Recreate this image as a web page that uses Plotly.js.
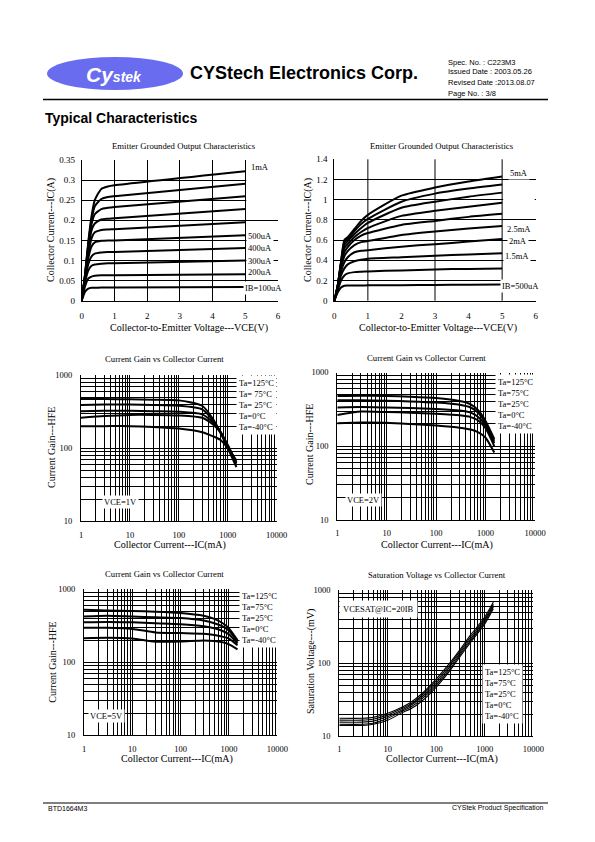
<!DOCTYPE html>
<html><head><meta charset="utf-8">
<script src="https://cdn.plot.ly/plotly-3.0.1.min.js"></script>
<style>html,body{margin:0;padding:0;background:#fff;}#chart{width:595px;height:842px;}</style>
</head><body><div id="chart"></div>
<script>
// ---------------- DATA ----------------
// Chart 1: Emitter grounded output characteristics (IB = 100uA .. 1mA)
const vce1 = [0, 0.1, 0.2, 0.3, 0.4, 0.6, 0.8, 1, 5];
const ib1 = ['100uA','200uA','300uA','400uA','500uA','600uA','700uA','800uA','900uA','1mA'];
const ic1 = [
  [0, 0.022, 0.030, 0.032, 0.032, 0.033, 0.033, 0.033, 0.034],
  [0, 0.035, 0.055, 0.060, 0.062, 0.063, 0.063, 0.063, 0.066],
  [0, 0.045, 0.075, 0.087, 0.090, 0.092, 0.093, 0.093, 0.100],
  [0, 0.050, 0.090, 0.110, 0.117, 0.120, 0.121, 0.121, 0.131],
  [0, 0.055, 0.105, 0.135, 0.145, 0.149, 0.150, 0.150, 0.163],
  [0, 0.058, 0.115, 0.155, 0.170, 0.176, 0.177, 0.178, 0.195],
  [0, 0.060, 0.125, 0.175, 0.192, 0.202, 0.204, 0.205, 0.228],
  [0, 0.062, 0.135, 0.190, 0.215, 0.228, 0.231, 0.233, 0.260],
  [0, 0.063, 0.140, 0.200, 0.235, 0.253, 0.258, 0.260, 0.291],
  [0, 0.064, 0.145, 0.210, 0.250, 0.278, 0.284, 0.287, 0.322]
];
// Chart 2: Emitter grounded output characteristics (IB = 500uA .. 5mA)
const vce2 = [0, 0.1, 0.2, 0.3, 0.4, 0.6, 0.8, 1, 2, 3, 4, 5];
const ib2 = ['500uA','1mA','1.5mA','2mA','2.5mA','3mA','3.5mA','4mA','4.5mA','5mA'];
const ic2 = [
  [0, 0.08, 0.13, 0.148, 0.150, 0.150, 0.151, 0.152, 0.154, 0.156, 0.158, 0.160],
  [0, 0.10, 0.20, 0.25, 0.27, 0.283, 0.287, 0.290, 0.300, 0.310, 0.315, 0.320],
  [0, 0.11, 0.25, 0.32, 0.36, 0.39, 0.405, 0.415, 0.430, 0.445, 0.458, 0.470],
  [0, 0.12, 0.29, 0.38, 0.43, 0.48, 0.495, 0.500, 0.535, 0.560, 0.585, 0.610],
  [0, 0.13, 0.32, 0.44, 0.49, 0.55, 0.58, 0.59, 0.65, 0.685, 0.715, 0.74],
  [0, 0.135, 0.34, 0.48, 0.53, 0.60, 0.645, 0.67, 0.75, 0.79, 0.83, 0.86],
  [0, 0.14, 0.36, 0.52, 0.56, 0.63, 0.68, 0.72, 0.84, 0.89, 0.93, 0.97],
  [0, 0.145, 0.37, 0.55, 0.59, 0.66, 0.72, 0.77, 0.92, 0.98, 1.03, 1.07],
  [0, 0.15, 0.38, 0.58, 0.61, 0.69, 0.76, 0.81, 0.98, 1.06, 1.11, 1.15],
  [0, 0.15, 0.39, 0.60, 0.63, 0.71, 0.79, 0.85, 1.04, 1.12, 1.18, 1.23]
];
// Current gain vs collector current (Ta = 125, 75, 25, 0, -40 C)
const temps = ['125','75','25','0','-40'];
const icGain1 = [1, 3, 10, 30, 100, 300, 500, 700, 1000, 1500];
const hfeVce1 = [
  [470, 470, 465, 460, 450, 380, 250, 165, 100, 55],
  [390, 395, 395, 390, 380, 340, 240, 170, 105, 58],
  [320, 325, 325, 320, 315, 290, 225, 170, 110, 62],
  [260, 275, 285, 285, 280, 260, 210, 165, 110, 65],
  [200, 200, 200, 195, 185, 165, 145, 130, 100, 68]
];
const icGain2 = [1, 3, 10, 30, 100, 300, 500, 700, 1000, 1500];
const hfeVce2 = [
  [480, 485, 480, 470, 450, 410, 370, 310, 220, 125],
  [420, 420, 415, 405, 390, 365, 335, 285, 205, 118],
  [335, 340, 335, 330, 320, 305, 285, 250, 190, 110],
  [265, 295, 290, 285, 275, 262, 248, 225, 175, 100],
  [205, 210, 208, 200, 190, 178, 168, 155, 130, 82]
];
const icGain5 = [1, 3, 10, 30, 100, 300, 500, 800, 1000, 1500];
const hfeVce5 = [
  [520, 510, 500, 490, 470, 430, 390, 330, 290, 200],
  [420, 430, 420, 410, 400, 370, 340, 300, 270, 190],
  [350, 355, 350, 340, 330, 310, 290, 260, 240, 180],
  [295, 295, 285, 255, 250, 245, 235, 220, 210, 170],
  [212, 215, 210, 190, 192, 198, 195, 185, 175, 150]
];
// Saturation voltage vs collector current (mV)
const icSat = [1, 3, 5, 10, 20, 30, 50, 100, 200, 300, 500, 1000, 1500];
const vceSat = [
  [17.5, 17.5, 18, 20.5, 25, 29, 38, 61, 105, 150, 240, 430, 690],
  [16.5, 16.5, 17, 19.5, 24, 27.5, 36, 57, 99, 142, 225, 405, 650],
  [15.5, 15.5, 16, 18.5, 23, 26.5, 34, 53, 93, 134, 212, 385, 620],
  [14.5, 14.5, 15, 17.5, 22, 25, 32, 50, 87, 127, 200, 365, 590],
  [14, 14, 14.5, 16.5, 21, 23.7, 30, 47, 82, 120, 190, 346, 560]
];
const logTickVals = [1, 10, 100, 1000, 10000];
const logTickText = ['1', '10', '100', '1000', '10000'];
const logYTickVals = [10, 100, 1000];
const logYTickText = ['10', '100', '1000'];

// ---------------- LAYOUT HELPERS ----------------
const W = 595, H = 842;
const px = x => x / W;
const py = y => 1 - y / H;
const SERIF = '"Liberation Serif","Times New Roman",serif';
const SANS = '"Liberation Sans",Arial,sans-serif';

const traces = [];
function addCurves(xs, ysets, xa, ya, width) {
  ysets.forEach(ys => traces.push({
    type: 'scatter', mode: 'lines', x: xs, y: ys, xaxis: xa, yaxis: ya,
    line: {color: '#000', width: width, shape: 'spline', smoothing: 0.6},
    hoverinfo: 'skip'
  }));
}
addCurves(vce1, ic1, 'x', 'y', 2);
addCurves(vce2, ic2, 'x2', 'y2', 2);
addCurves(icGain1, hfeVce1, 'x3', 'y3', 2);
addCurves(icGain2, hfeVce2, 'x4', 'y4', 2);
addCurves(icGain5, hfeVce5, 'x5', 'y5', 2);
addCurves(icSat, vceSat, 'x6', 'y6', 1.1);

function baseAx(extra) {
  return Object.assign({
    showline: true, linecolor: '#000', linewidth: 1, ticks: '',
    tickfont: {family: SERIF, size: 9, color: '#000'},
    showgrid: true, gridcolor: '#000', gridwidth: 1, zeroline: false,
    fixedrange: true, ticklabelstandoff: 4
  }, extra);
}
function logX(dom, anchor) {
  return baseAx({type: 'log', domain: dom, anchor: anchor, range: [0, 4],
    tickmode: 'array', tickvals: logTickVals, ticktext: logTickText,
    tickfont: {family: SERIF, size: 8.5, color: '#000'}, ticklabelstandoff: 5,
    minor: {dtick: 'D1', showgrid: true, gridcolor: '#000', gridwidth: 1, ticks: ''}});
}
function logY(dom, anchor) {
  return baseAx({type: 'log', domain: dom, anchor: anchor, range: [1, 3],
    tickmode: 'array', tickvals: logYTickVals, ticktext: logYTickText,
    tickfont: {family: SERIF, size: 8.5, color: '#000'}, ticklabelstandoff: 6,
    minor: {dtick: 'D1', showgrid: true, gridcolor: '#000', gridwidth: 1, ticks: ''}});
}
const dx = (a, b) => [px(a), px(b)];
const dy = (top, bot) => [py(bot), py(top)];

const layout = {
  width: W, height: H, margin: {l: 0, r: 0, t: 0, b: 0},
  paper_bgcolor: '#fff', plot_bgcolor: 'rgba(0,0,0,0)', showlegend: false,
  xaxis: baseAx({domain: dx(81.7, 278), anchor: 'y', range: [0, 6], dtick: 1, tick0: 0, ticklabelstandoff: 6}),
  yaxis: baseAx({domain: dy(160, 300.7), anchor: 'x', range: [0, 0.35], dtick: 0.05, tick0: 0}),
  xaxis2: baseAx({domain: dx(334.3, 535.7), anchor: 'y2', range: [0, 6], dtick: 1, tick0: 0, showgrid: false, ticklabelstandoff: 6}),
  yaxis2: baseAx({domain: dy(159.3, 300.7), anchor: 'x2', range: [0, 1.4], dtick: 0.2, tick0: 0}),
  xaxis3: logX(dx(81, 276.7), 'y3'),
  yaxis3: logY(dy(375, 521.3), 'x3'),
  xaxis4: logX(dx(337.3, 535), 'y4'),
  yaxis4: logY(dy(372.5, 519.8), 'x4'),
  xaxis5: logX(dx(84, 277.3), 'y5'),
  yaxis5: logY(dy(589, 735.3), 'x5'),
  xaxis6: logX(dx(339.3, 533.3), 'y6'),
  yaxis6: logY(dy(590.3, 736), 'x6'),
  shapes: [], annotations: []
};

// header / footer shapes
layout.shapes.push(
  {type: 'line', xref: 'paper', yref: 'paper', x0: px(43), x1: px(548), y0: py(99.5), y1: py(99.5), line: {color: '#000', width: 1.5}},
  {type: 'line', xref: 'paper', yref: 'paper', x0: px(43), x1: px(548), y0: py(803), y1: py(803), line: {color: '#000', width: 1.2}},
  {type: 'circle', xref: 'paper', yref: 'paper', x0: px(47), x1: px(183), y0: py(90), y1: py(57), fillcolor: '#6a6cf0', line: {width: 0}}
);
// vertical grid for chart 2 (only at 1,3,5 in the original)
[1, 3, 5].forEach(v => layout.shapes.push({type: 'line', xref: 'x2', yref: 'y2 domain', x0: v, x1: v, y0: 0, y1: 1, layer: 'below', line: {color: '#000', width: 1}}));
// white label areas covering grid
layout.shapes.push(
  {type: 'rect', xref: 'x', yref: 'y', x0: 5.03, x1: 6.05, y0: 0.203, y1: 0.352, fillcolor: '#fff', line: {width: 0}, layer: 'above'},
  {type: 'rect', xref: 'x2', yref: 'y2', x0: 5.03, x1: 5.97, y0: 0.82, y1: 1.18, fillcolor: '#fff', line: {width: 0}, layer: 'above'},
  {type: 'rect', xref: 'x2', yref: 'y2', x0: 5.03, x1: 6.05, y0: 1.22, y1: 1.41, fillcolor: '#fff', line: {width: 0}, layer: 'above'}
);

function ann(text, x, y, opts) {
  layout.annotations.push(Object.assign({
    text: text, xref: 'paper', yref: 'paper', x: px(x), y: py(y),
    xanchor: 'center', yanchor: 'middle', showarrow: false,
    font: {family: SERIF, size: 9, color: '#000'}
  }, opts || {}));
}
// header texts
ann('<b><i>Cy</i></b><b><i><span style="font-size:14px">stek</span></i></b>', 114, 75, {font: {family: SANS, size: 21, color: '#fff'}});
ann('<b>CYStech Electronics Corp.</b>', 188, 73, {xanchor: 'left', font: {family: SANS, size: 18, color: '#000'}});
ann('Spec. No. : C223M3', 446, 62, {xanchor: 'left', font: {family: SANS, size: 7.5, color: '#000'}});
ann('Issued Date : 2003.05.26', 446, 72, {xanchor: 'left', font: {family: SANS, size: 7.5, color: '#000'}});
ann('Revised Date :2013.08.07', 446, 82.5, {xanchor: 'left', font: {family: SANS, size: 7.5, color: '#000'}});
ann('Page No. : 3/8', 446, 93, {xanchor: 'left', font: {family: SANS, size: 7.5, color: '#000'}});
ann('<b>Typical Characteristics</b>', 43, 118, {xanchor: 'left', font: {family: SANS, size: 14, color: '#000'}});
ann('BTD1664M3', 46, 808, {xanchor: 'left', font: {family: SANS, size: 7, color: '#000'}});
ann('CYStek Product Specification', 546, 808, {xanchor: 'right', font: {family: SANS, size: 7, color: '#000'}});

// chart titles
const T = {family: SERIF, size: 8.7, color: '#000'};
ann('Emitter Grounded Output Characteristics', 184, 145.7, {font: T});
ann('Emitter Grounded Output Characteristics', 441.7, 145.7, {font: T});
ann('Current Gain vs Collector Current', 164, 359, {font: T});
ann('Current Gain vs Collector Current', 426, 358.5, {font: T});
ann('Current Gain vs Collector Current', 164, 574, {font: T});
ann('Saturation Voltage vs Collector Current', 436.7, 575, {font: T});
// axis titles
const A = {family: SERIF, size: 10, color: '#000'};
ann('Collector-to-Emitter Voltage---VCE(V)', 189, 327.7, {font: A});
ann('Collector-to-Emitter Voltage---VCE(V)', 438, 327.7, {font: A});
ann('Collector Current---IC(mA)', 170, 545, {font: A});
ann('Collector Current---IC(mA)', 436.7, 544.5, {font: A});
ann('Collector Current---IC(mA)', 176.7, 758.5, {font: A});
ann('Collector Current---IC(mA)', 441.7, 759, {font: A});
ann('Collector Current---IC(A)', 51, 230, {font: A, textangle: -90});
ann('Collector Current---IC(A)', 308, 230, {font: A, textangle: -90});
ann('Current Gain---HFE', 51, 448, {font: A, textangle: -90});
ann('Current Gain---HFE', 309, 445, {font: A, textangle: -90});
ann('Current Gain---HFE', 51.7, 662, {font: A, textangle: -90});
ann('Saturation Voltage---(mV)', 311, 662, {font: A, textangle: -90});

// curve labels
const L = {family: SERIF, size: 8.5, color: '#000'};
const W8 = {font: L, bgcolor: '#fff', borderpad: 1};
ann(ib1[9], 260, 166.7, W8);
ann(ib1[4], 260, 236, W8);
ann(ib1[3], 260, 248.3, W8);
ann(ib1[2], 260, 260.5, W8);
ann(ib1[1], 260, 272.3, W8);
ann('IB=' + ib1[0], 263, 288.3, W8);
ann(ib2[9], 519, 173.3, W8);
ann(ib2[4], 519, 229.3, W8);
ann(ib2[3], 518.3, 241, W8);
ann(ib2[2], 516.7, 255.7, W8);
ann('IB=' + ib2[0], 520, 285.7, W8);

function taBlock(x, y, spaced) {
  const lines = temps.map((t, i) => 'Ta=' + (spaced && (i === 1 || i === 2) ? ' ' : '') + t + '°C');
  ann(lines.join('<br>'), x, y, {xanchor: 'left', align: 'left', font: L, bgcolor: '#fff', borderpad: 2});
}
taBlock(236, 405.3, true);
taBlock(495, 403.5, false);
taBlock(239.3, 618, false);
taBlock(481.7, 693.5, false);
ann('VCE=1V', 120, 502.3, W8);
ann('VCE=2V', 363.3, 499.7, W8);
ann('VCE=5V', 106.7, 716, W8);
ann('VCESAT@IC=20IB', 378.3, 608.7, {font: L, bgcolor: '#fff', borderpad: 3});

Plotly.newPlot('chart', traces, layout, {staticPlot: true, displayModeBar: false});
</script>
</body></html>
